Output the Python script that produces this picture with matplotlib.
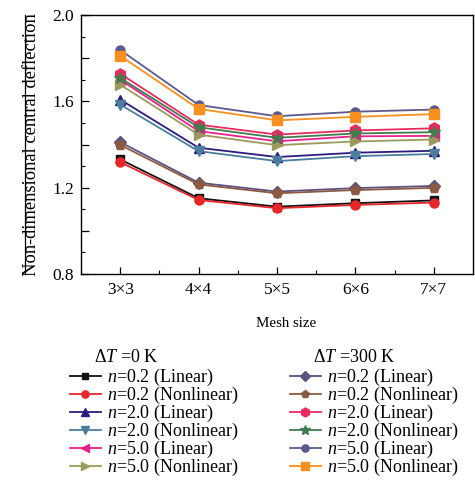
import matplotlib
matplotlib.use("Agg")
import matplotlib.pyplot as plt
from matplotlib.ticker import MultipleLocator, FixedLocator, FuncFormatter
from matplotlib.lines import Line2D

plt.rcParams['font.family'] = ['Liberation Serif', 'DejaVu Serif']
plt.rcParams['mathtext.fontset'] = 'custom'
plt.rcParams['mathtext.rm'] = 'Liberation Serif'
plt.rcParams['mathtext.it'] = 'Liberation Serif:italic'
plt.rcParams['mathtext.bf'] = 'Liberation Serif:bold'

mesh = ['3×3', '4×4', '5×5', '6×6', '7×7']

# Delta T = 0 K
t0_n02_lin = [1.331, 1.151, 1.112, 1.128, 1.141]
t0_n02_non = [1.318, 1.143, 1.105, 1.120, 1.131]
t0_n20_lin = [1.608, 1.385, 1.342, 1.362, 1.371]
t0_n20_non = [1.585, 1.369, 1.323, 1.346, 1.356]
t0_n50_lin = [1.700, 1.462, 1.415, 1.438, 1.440]
t0_n50_non = [1.677, 1.446, 1.397, 1.414, 1.423]
# Delta T = 300 K
t3_n02_lin = [1.411, 1.223, 1.182, 1.198, 1.208]
t3_n02_non = [1.398, 1.215, 1.174, 1.189, 1.199]
t3_n20_lin = [1.728, 1.492, 1.446, 1.465, 1.475]
t3_n20_non = [1.708, 1.480, 1.431, 1.451, 1.457]
t3_n50_lin = [1.838, 1.583, 1.531, 1.552, 1.562]
t3_n50_non = [1.811, 1.565, 1.512, 1.528, 1.541]

labels0 = ['0.2 (Linear)', '0.2 (Nonlinear)', '2.0 (Linear)', '2.0 (Nonlinear)', '5.0 (Linear)', '5.0 (Nonlinear)']
labels3 = labels0

series0 = [t0_n02_lin, t0_n02_non, t0_n20_lin, t0_n20_non, t0_n50_lin, t0_n50_non]
series3 = [t3_n02_lin, t3_n02_non, t3_n20_lin, t3_n20_non, t3_n50_lin, t3_n50_non]

colors0 = ['#111111', '#e8262a', '#2d1c80', '#4b7e9c', '#e9208c', '#9b9a5c']
markers0 = ['s', 'o', '^', 'v', '<', '>']
colors3 = ['#5b5282', '#8c5a42', '#ea2a5e', '#3f7d4e', '#5b5a8e', '#f7901e']
markers3 = ['D', 'p', 'h', '*', 'o', 's']
msizes0 = [5.5, 6.5, 7, 7, 7, 7]
msizes3 = [6, 7, 8, 9, 6.5, 6.5]

fig = plt.figure(figsize=(4.75, 4.8), dpi=100)
ax = fig.add_axes([81/475, 1 - 274/480, (473 - 81)/475, (274 - 15)/480])

x = list(range(len(mesh)))
h0 = []
h3 = []
for ys, c, m, ms, lab in zip(series0, colors0, markers0, msizes0, labels0):
    ln, = ax.plot(x, ys, color=c, marker=m, markersize=ms, lw=1.3, label=r'$n$=' + lab)
    h0.append(ln)
for ys, c, m, ms, lab in zip(series3, colors3, markers3, msizes3, labels3):
    ln, = ax.plot(x, ys, color=c, marker=m, markersize=ms, lw=1.3, label=r'$n$=' + lab)
    h3.append(ln)

ax.set_xlim(-0.5, 4.5)
ax.set_ylim(0.8, 2.0)
ax.set_xticks(x)
ax.set_xticklabels(mesh)
ax.xaxis.set_minor_locator(FixedLocator([0.5, 1.5, 2.5, 3.5]))
ax.yaxis.set_major_locator(MultipleLocator(0.2))
ax.yaxis.set_minor_locator(MultipleLocator(0.1))


def yfmt(v, p):
    k = round(v / 0.2)
    return f'{v:.1f}' if k % 2 == 0 else ''


ax.yaxis.set_major_formatter(FuncFormatter(yfmt))
ax.tick_params(which='both', direction='in', top=False, right=False, labelsize=12.5)
ax.tick_params(axis='x', which='major', length=5, width=0.9, pad=6)
ax.tick_params(axis='x', which='minor', length=3, width=0.8)
ax.tick_params(axis='y', which='major', length=5.5, width=0.9, pad=5)
ax.tick_params(axis='y', which='minor', length=3, width=0.8)
for s in ax.spines.values():
    s.set_linewidth(1.0)

ax.set_xlabel('Mesh size', fontsize=10.8)
ax.xaxis.set_label_coords(0.524, -0.165)
ylab = ax.set_ylabel('Non-dimensional central deflection', fontsize=13.3, labelpad=9)

leg_kw = dict(frameon=False, fontsize=13, handlelength=1.7, handletextpad=0.35,
              labelspacing=-0.17, borderpad=0, borderaxespad=0, loc='upper left',
              markerscale=0.8)
fig.legend(handles=h0, bbox_to_anchor=(70/475, 1 - 367/480), **leg_kw)
fig.legend(handles=h3, bbox_to_anchor=(290/475, 1 - 367/480), **leg_kw)
fig.text(94/475, 1 - 357/480, r'$\Delta T$ =0 K', fontsize=13, va='center', ha='left')
fig.text(313/475, 1 - 357/480, r'$\Delta T$ =300 K', fontsize=13, va='center', ha='left')

# overline over the rotated y label (its top side faces left)
fig.canvas.draw()
bb = ylab.get_window_extent().transformed(fig.transFigure.inverted())
fig.add_artist(Line2D([bb.x0 + 0.004, bb.x0 + 0.004], [bb.y0 + 0.003, bb.y1 - 0.003],
                      transform=fig.transFigure, color='black', lw=0.9))

fig.savefig('out.png', dpi=100)
